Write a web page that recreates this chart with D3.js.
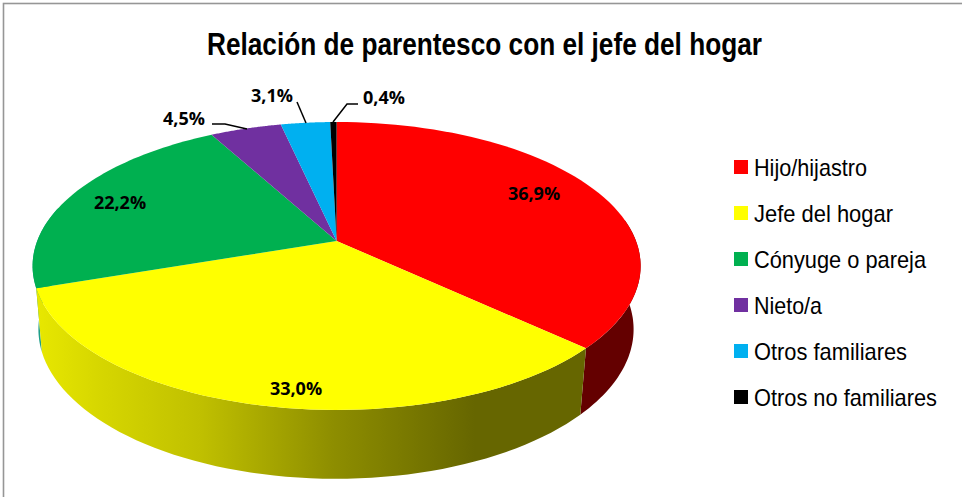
<!DOCTYPE html>
<html><head><meta charset="utf-8">
<script src="https://cdn.jsdelivr.net/npm/d3@7"></script>
<style>html,body{margin:0;padding:0;background:#fff;overflow:hidden}svg{display:block}</style>
</head><body><div id="chart"></div>
<script>
const title = "Relación de parentesco con el jefe del hogar";
const categories = ["Hijo/hijastro","Jefe del hogar","Cónyuge o pareja","Nieto/a","Otros familiares","Otros no familiares"];
const values = [36.9,33.0,22.2,4.5,3.1,0.4];
const labels = ["36,9%","33,0%","22,2%","4,5%","3,1%","0,4%"];
const colors = ["#ff0000","#ffff00","#00b050","#7030a0","#00b0f0","#000000"];
const wallColors = ["#640000","url(#wallY)","#1f9f8a","#3a1a55","#006080","#000"];
const legendWidths = [113,139,172,68,153,183];

const W=962,H=497;
const svg=d3.select("#chart").append("svg").attr("width",W).attr("height",H);
const grad=svg.append("defs").append("linearGradient").attr("id","wallY")
  .attr("gradientUnits","userSpaceOnUse").attr("x1",35).attr("x2",585).attr("y1",0).attr("y2",0);
[[0,"#e8e800"],[0.12,"#d6d600"],[0.3,"#c0c000"],[0.54,"#8e8e00"],[0.8,"#666600"],[1,"#666600"]]
  .forEach(s=>grad.append("stop").attr("offset",s[0]).attr("stop-color",s[1]));

svg.append("rect").attr("x",3.5).attr("y",3.5).attr("width",W+4).attr("height",H+4)
  .attr("fill","#fff").attr("stroke","#969696").attr("stroke-width",1.6);

// perspective projection of the unit circle
const topDisc={a:299.4,b:97.8,c:241,p:0.1736,x:336.6};
const botDisc={a:293,b:91.9,c:303.1,p:0.175,x:336};
const proj=(d,t,r=1)=>{const u=r*Math.sin(t),v=-r*Math.cos(t),w=1-d.p*v;return [d.x+d.a*u/w,(d.b*v+d.c)/w];};
const line=d3.line();
const arcs=d3.pie().sort(null).value(d=>d)(values);
const samples=(a0,a1)=>d3.range(0,61).map(i=>a0+(a1-a0)*i/60);

// walls, only the near half of the cylinder
const gWall=svg.append("g");
const nearStart=Math.PI*0.45,nearEnd=Math.PI*1.58;
[2,0,1].forEach(i=>{
  const s=Math.max(arcs[i].startAngle,nearStart),e=Math.min(arcs[i].endAngle,nearEnd);
  const ts=samples(s,e);
  const pts=ts.map(t=>proj(topDisc,t)).concat(ts.slice().reverse().map(t=>proj(botDisc,t)));
  gWall.append("path").attr("d",line(pts)+"Z").attr("fill",wallColors[i]);
});
// top face
svg.append("g").selectAll("path").data(arcs).join("path")
  .attr("d",d=>line([[topDisc.x,topDisc.c]].concat(samples(d.startAngle,d.endAngle).map(t=>proj(topDisc,t))))+"Z")
  .attr("fill",(d,i)=>colors[i]);

// leader lines
const lead=[
  [[212,124],[225,124],[247,129]],
  [[297,102],[306,123]],
  [[333,122],[347,104],[358,104]]];
svg.append("g").selectAll("path").data(lead).join("path")
  .attr("d",d=>line(d)).attr("fill","none").attr("stroke","#000").attr("stroke-width",1.5);

// data labels
const labelPos=[[534,194],[296,389],[120,203],[184,119],[272,96],[384,98]];
svg.append("g").selectAll("text").data(labels).join("text")
  .attr("x",(d,i)=>labelPos[i][0]).attr("y",(d,i)=>labelPos[i][1]).attr("dy","0.35em")
  .attr("text-anchor","middle").attr("font-family","'Open Sans',sans-serif").attr("font-weight",700)
  .attr("font-size",18).attr("fill","#000").text(d=>d);

// title
svg.append("text").attr("x",484.5).attr("y",54.5).attr("text-anchor","middle")
  .attr("font-family","'Liberation Sans',Arial,sans-serif").attr("font-weight",700).attr("font-size",32)
  .attr("textLength",555).attr("lengthAdjust","spacingAndGlyphs").text(title);

// legend
const legendY=d3.scalePoint().domain(categories).range([167,397]);
const leg=svg.append("g").selectAll("g").data(categories).join("g")
  .attr("transform",d=>`translate(734,${legendY(d)})`);
leg.append("rect").attr("x",0).attr("y",-7).attr("width",14).attr("height",14).attr("fill",(d,i)=>colors[i]);
leg.append("text").attr("x",20).attr("y",9).attr("font-family","'Liberation Sans',Arial,sans-serif")
  .attr("font-size",24).text(d=>d)
  .attr("textLength",(d,i)=>legendWidths[i]).attr("lengthAdjust","spacingAndGlyphs");
</script></body></html>
